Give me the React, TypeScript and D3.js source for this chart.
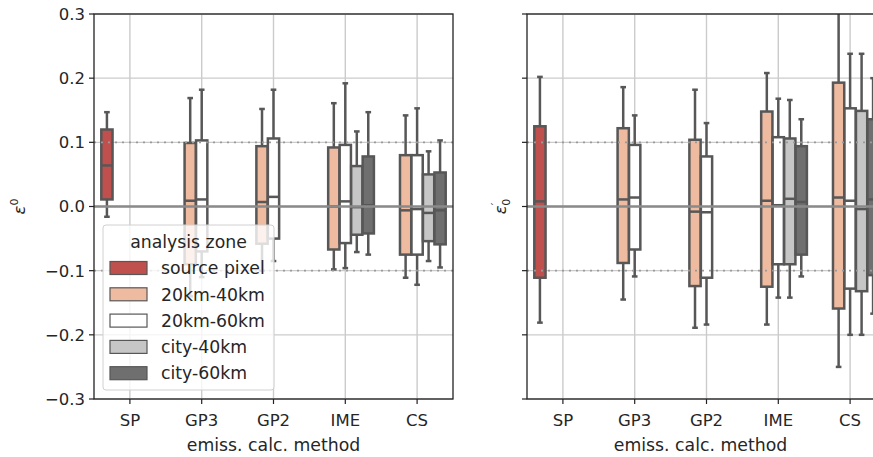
import React from "react";
import * as d3 from "d3";

const categories = ["SP", "GP3", "GP2", "IME", "CS"];
const zones = ["source pixel", "20km-40km", "20km-60km", "city-40km", "city-60km"];
const zoneColors = ["#c0504d", "#eebba0", "#ffffff", "#c6c6c6", "#6f6f6f"];
const yTicks = [-0.3, -0.2, -0.1, 0.0, 0.1, 0.2, 0.3];

// each entry: [whisker low, q1, median, q3, whisker high] per category
type Stat = number[] | null;

const leftSourcePixel: Stat[] = [[-0.016, 0.011, 0.064, 0.12, 0.147], null, null, null, null];
const left20km40km: Stat[] = [null, [-0.14, -0.09, 0.009, 0.099, 0.169], [-0.1, -0.058, 0.007, 0.094, 0.152], [-0.098, -0.067, 0.0, 0.092, 0.161], [-0.111, -0.075, -0.006, 0.08, 0.142]];
const left20km60km: Stat[] = [null, [-0.11, -0.07, 0.011, 0.103, 0.182], [-0.085, -0.05, 0.015, 0.106, 0.182], [-0.096, -0.057, 0.008, 0.096, 0.192], [-0.122, -0.075, -0.004, 0.08, 0.153]];
const leftCity40km: Stat[] = [null, null, null, [-0.071, -0.044, -0.001, 0.063, 0.117], [-0.085, -0.054, -0.01, 0.05, 0.086]];
const leftCity60km: Stat[] = [null, null, null, [-0.075, -0.042, 0.002, 0.078, 0.147], [-0.095, -0.059, -0.006, 0.053, 0.103]];

const rightSourcePixel: Stat[] = [[-0.181, -0.111, 0.008, 0.125, 0.202], null, null, null, null];
const right20km40km: Stat[] = [null, [-0.145, -0.088, 0.011, 0.122, 0.186], [-0.189, -0.124, -0.008, 0.104, 0.182], [-0.184, -0.125, 0.009, 0.148, 0.208], [-0.25, -0.159, 0.014, 0.193, 0.31]];
const right20km60km: Stat[] = [null, [-0.109, -0.067, 0.014, 0.096, 0.142], [-0.184, -0.111, -0.009, 0.078, 0.13], [-0.142, -0.09, 0.002, 0.108, 0.168], [-0.2, -0.128, 0.009, 0.153, 0.238]];
const rightCity40km: Stat[] = [null, null, null, [-0.142, -0.09, 0.012, 0.106, 0.166], [-0.2, -0.132, -0.004, 0.149, 0.238]];
const rightCity60km: Stat[] = [null, null, null, [-0.109, -0.075, 0.007, 0.094, 0.136], [-0.167, -0.107, 0.011, 0.136, 0.2]];

const leftSeries = [leftSourcePixel, left20km40km, left20km60km, leftCity40km, leftCity60km];
const rightSeries = [rightSourcePixel, right20km40km, right20km60km, rightCity40km, rightCity60km];

const W = 873, H = 457;
const top = 14, bottom = 399;
const FONT = "DejaVu Sans";
const FS = 16.5;
const FSL = 17.3;
const LINE = "#575757";

const y = d3.scaleLinear().domain([-0.3, 0.3]).range([bottom, top]);
const fmt = (v: number) => (v < 0 ? "\u2212" : "") + Math.abs(v).toFixed(1);

function Panel({ x0, x1, series, showLabels, yLabel, id }: any) {
  const x = d3.scaleBand().domain(categories).range([x0, x1]).paddingInner(0).paddingOuter(0);
  const bw = x.bandwidth();
  const hue = d3.scaleBand().domain(zones).range([-0.4 * bw, 0.4 * bw]);
  const boxW = hue.bandwidth() * 0.98;
  const cx = (c: string) => (x(c) as number) + bw / 2;
  return (
    <g>
      <defs>
        <clipPath id={id}>
          <rect x={x0} y={top} width={x1 - x0} height={bottom - top} />
        </clipPath>
      </defs>
      {categories.map((c) => (
        <line key={c} x1={cx(c)} x2={cx(c)} y1={top} y2={bottom} stroke="#cbcbcb" strokeWidth={1.4} />
      ))}
      {yTicks.map((t) => (
        <line key={t} x1={x0} x2={x1} y1={y(t)} y2={y(t)} stroke="#cbcbcb" strokeWidth={1.4} />
      ))}
      <g clipPath={`url(#${id})`}>
        {series.map((s: Stat[], zi: number) =>
          s.map((st, ci) => {
            if (!st) return null;
            const c = categories[ci];
            const center = cx(c) + (hue(zones[zi]) as number) + hue.bandwidth() / 2;
            const [lo, q1, med, q3, hi] = st;
            const capW = boxW / 2;
            return (
              <g key={`${zi}-${ci}`} stroke={LINE} strokeWidth={2.5}>
                <line x1={center} x2={center} y1={y(q3)} y2={y(hi)} />
                <line x1={center} x2={center} y1={y(q1)} y2={y(lo)} />
                <line x1={center - capW / 2} x2={center + capW / 2} y1={y(hi)} y2={y(hi)} />
                <line x1={center - capW / 2} x2={center + capW / 2} y1={y(lo)} y2={y(lo)} />
                <rect x={center - boxW / 2} y={y(q3)} width={boxW} height={y(q1) - y(q3)} fill={zoneColors[zi]} />
                <line x1={center - boxW / 2} x2={center + boxW / 2} y1={y(med)} y2={y(med)} />
              </g>
            );
          })
        )}
      </g>
      <line x1={x0} x2={x1} y1={y(0)} y2={y(0)} stroke="#8a8a8a" strokeWidth={2.4} />
      {[0.1, -0.1].map((v) => (
        <line key={v} x1={x0} x2={x1} y1={y(v)} y2={y(v)} stroke="#9a9a9a" strokeWidth={1.6} strokeDasharray="2 5" />
      ))}
      <rect x={x0} y={top} width={x1 - x0} height={bottom - top} fill="none" stroke="#222" strokeWidth={1.3} />
      {yTicks.map((t) => (
        <g key={t}>
          <line x1={x0 - 5} x2={x0} y1={y(t)} y2={y(t)} stroke="#222" strokeWidth={1.2} />
          {showLabels && (
            <text x={x0 - 9} y={y(t)} dy="0.36em" textAnchor="end" fontSize={FS} fill="#262626" fontFamily={FONT}>
              {fmt(t)}
            </text>
          )}
        </g>
      ))}
      {categories.map((c) => (
        <g key={c}>
          <line x1={cx(c)} x2={cx(c)} y1={bottom} y2={bottom + 5} stroke="#222" strokeWidth={1.2} />
          <text x={cx(c)} y={bottom + 27} textAnchor="middle" fontSize={FS} fill="#262626" fontFamily={FONT}>
            {c}
          </text>
        </g>
      ))}
      <text x={(x0 + x1) / 2 + (id === "clipR" ? -6 : 0)} y={451} textAnchor="middle" fontSize={FSL} fill="#262626" fontFamily={FONT}>
        emiss. calc. method
      </text>
      {yLabel}
    </g>
  );
}

export default function App() {
  const leftX0 = 94, leftX1 = 453;
  const rightX0 = 527, rightX1 = 886;
  const legendRows = zones.map((z, i) => ({ z, c: zoneColors[i], cy: 268 + i * 26.3 }));
  return (
    <svg width={W} height={H} style={{ position: "absolute", left: 0, top: 0, background: "#fff" }} fontFamily={FONT}>
      <rect width={W} height={H} fill="#fff" />
      <Panel
        id="clipL"
        x0={leftX0}
        x1={leftX1}
        series={leftSeries}
        showLabels={true}
        yLabel={
          <text transform={`translate(25,${y(0)}) rotate(-90)`} textAnchor="middle" fontSize={FS} fill="#262626">
            <tspan fontStyle="italic">ε</tspan>
            <tspan fontSize={11} dy={-7}>0</tspan>
          </text>
        }
      />
      <Panel
        id="clipR"
        x0={rightX0}
        x1={rightX1}
        series={rightSeries}
        showLabels={false}
        yLabel={
          <text transform={`translate(506,${y(0)}) rotate(-90)`} textAnchor="middle" fontSize={FS} fill="#262626">
            <tspan fontStyle="italic">ε</tspan>
            <tspan fontSize={11} dy={-7}>′</tspan>
            <tspan fontSize={11} dx={-3} dy={11}>0</tspan>
          </text>
        }
      />
      <g>
        <rect x={103} y={225} width={171} height={165} rx={3} fill="#ffffff" fillOpacity={0.8} stroke="#d0d0d0" strokeWidth={1} />
        <text x={188.5} y={248} textAnchor="middle" fontSize={FSL} fill="#262626">
          analysis zone
        </text>
        {legendRows.map((r) => (
          <g key={r.z}>
            <rect x={110} y={r.cy - 6.5} width={37} height={13} fill={r.c} stroke={LINE} strokeWidth={1.2} />
            <text x={161} y={r.cy} dy="0.36em" fontSize={FSL} fill="#262626">
              {r.z}
            </text>
          </g>
        ))}
      </g>
    </svg>
  );
}
